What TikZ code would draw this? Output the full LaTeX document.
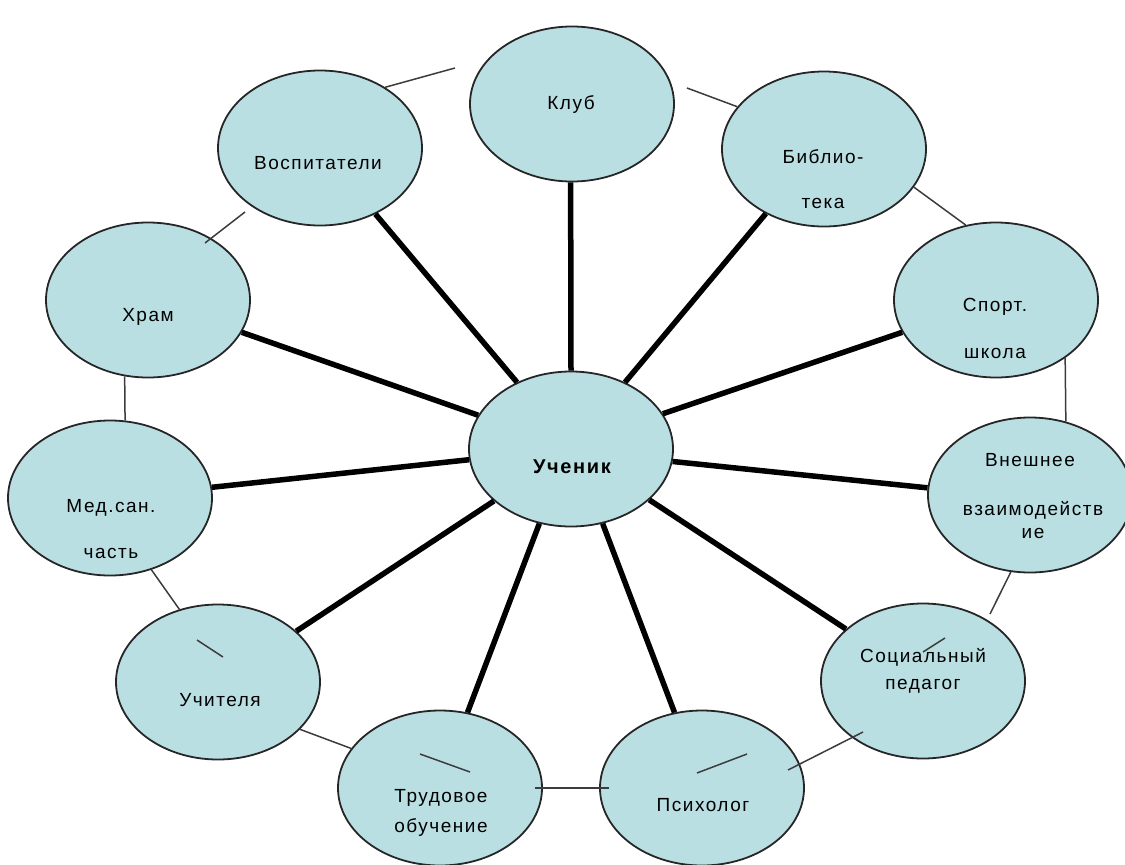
\documentclass[tikz,border=0pt]{standalone}
\usepackage{fontspec}
\setmainfont{Liberation Sans}[LetterSpace=8]
\usepackage{tikz}
\usetikzlibrary{calc}
\usetikzlibrary{shapes.geometric}

\definecolor{bubblefill}{RGB}{186,223,227}
\definecolor{ringgray}{RGB}{60,60,60}

\tikzset{
  bubble/.style={ellipse, draw=black!85, line width=1.8pt, fill=bubblefill,
    minimum width=204pt, minimum height=155pt, inner sep=0pt},
  txt/.style={font=\fontsize{19}{21}\selectfont, inner sep=0pt},
  spoke/.style={line width=5.5pt, black},
  ring/.style={draw=ringgray, line width=1.5pt},
}

\begin{document}
\begin{tikzpicture}[x=1pt,y=-1pt]
   \useasboundingbox (0,0) rectangle (1125,865);
   % bubbles
   \node[bubble] (uchenik) at (571,449) {};
   \node[bubble] (klub) at (572,104) {};
   \node[bubble] (vosp) at (320,148) {};
   \node[bubble] (biblio) at (824,149) {};
   \node[bubble] (sport) at (996,300) {};
   \node[bubble] (vnesh) at (1030,495) {};
   \node[bubble] (socped) at (923,681) {};
   \node[bubble] (psych) at (702,788) {};
   \node[bubble] (trud) at (440,788) {};
   \node[bubble] (uchit) at (218,682) {};
   \node[bubble] (medsan) at (110,498) {};
   \node[bubble] (hram) at (148,300) {};
   % spokes
   \foreach \a/\n/\b in {90/klub/-91, 129/vosp/310, 51/biblio/228, 21/sport/199,
       -7/vnesh/176, -33/socped/146, -67/psych/110, 247/trud/70,
       214/uchit/33, 186/medsan/6, 160/hram/341}
     \draw[spoke] (uchenik.\a) -- (\n.\b);
   % outer ring
   \coordinate (r1) at (455,68);
   \coordinate (r2) at (687,88);
   \coordinate (r3) at (990,614);
   \coordinate (r4) at (863,732);
   \coordinate (r5) at (788,770);
   \coordinate (r6) at (205,243);
   \coordinate (r7) at (245,212);
   \draw[ring] (vosp.43) -- (r1);
   \draw[ring] (r2) -- (biblio.154);
   \draw[ring] (biblio.-23) -- (sport.112);
   \draw[ring] (sport.-40) -- (vnesh.64);
   \draw[ring] (vnesh.256) -- (r3);
   \draw[ring] (r4) -- (r5);
   \draw[ring, shorten <=-8pt, shorten >=-10pt] (trud.east) -- (psych.west);
   \draw[ring] (uchit.-30) -- (trud.156);
   \draw[ring] (medsan.-60) -- (uchit.118);
   \draw[ring] (hram.253) -- (medsan.79);
   \draw[ring] (r6) -- (r7);
   % stray marks
   \draw[ring] (197,640) -- (223,657);
   \draw[ring] (420,754) -- (470,772);
   \draw[ring] (697,773) -- (747,754);
   \draw[ring] (923,652) -- (945,638);
   % labels
   \node[txt, font=\fontsize{20}{22}\selectfont\bfseries] (uchenikT) at (572,467) {Ученик};
   \node[txt] (klubT) at (571,105) {Клуб};
   \node[txt] (vospT) at (318,163) {Воспитатели};
   \node[txt] (biblioT) at (823,157) {Библио-};
   \node[txt] (biblioT2) at (823,203) {тека};
   \node[txt] (sportT) at (995,307) {Спорт.};
   \node[txt] (sportT2) at (995,353) {школа};
   \node[txt] (vneshT) at (1030,460) {Внешнее};
   \node[txt] (vneshT2) at (1033,510) {взаимодейств};
   \node[txt] (vneshT3) at (1033,533) {ие};
   \node[txt] (socpedT) at (923,657) {Социальный};
   \node[txt] (socpedT2) at (923,686) {педагог};
   \node[txt] (psychT) at (703,805) {Психолог};
   \node[txt] (trudT) at (441,798) {Трудовое};
   \node[txt] (trudT2) at (441,827) {обучение};
   \node[txt] (uchitT) at (220,700) {Учителя};
   \node[txt] (medsanT) at (111,508) {Мед.сан.};
   \node[txt] (medsanT2) at (111,553) {часть};
   \node[txt] (hramT) at (148,317) {Храм};
\end{tikzpicture}
\end{document}
